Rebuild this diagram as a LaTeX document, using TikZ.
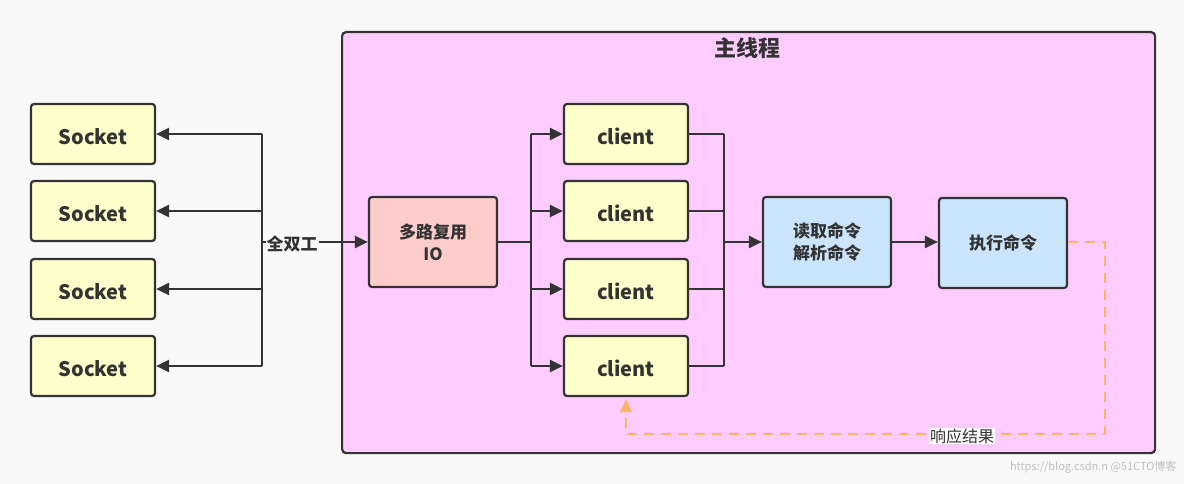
\documentclass[tikz,border=0pt]{standalone}
\usepackage{fontspec}
\setmainfont{Noto Sans CJK SC}
\usetikzlibrary{arrows.meta}
\definecolor{bg}{HTML}{F9F9F9}
\definecolor{ink}{HTML}{333333}
\definecolor{frame}{HTML}{FFCCFF}
\definecolor{yel}{HTML}{FFFFCC}
\definecolor{rose}{HTML}{FFCCCC}
\definecolor{blu}{HTML}{CCE5FF}
\definecolor{orng}{HTML}{FFB366}
\tikzset{
  box/.style={draw=ink, line width=2.2pt, rounded corners=3pt, font=\bfseries\fontsize{17}{22}\selectfont, text=ink, align=center},
  small/.style={box, fill=yel, minimum width=124pt, minimum height=60pt, font=\bfseries\fontsize{20}{22}\selectfont, text height=21pt, text depth=0pt},
  big/.style={box, minimum width=128pt, minimum height=90pt},
  conn/.style={draw=ink, line width=2.2pt},
  arr/.style={conn, -{Triangle[length=13pt,width=12pt]}},
  resp/.style={draw=orng, line width=2.4pt, dash pattern=on 10pt off 7pt}
}
\begin{document}
\begin{tikzpicture}[x=1pt,y=-1pt]
\fill[bg] (0,0) rectangle (1184,484);
\useasboundingbox (0,0) rectangle (1184,484);
\node[draw=ink, line width=2.2pt, fill=frame, rounded corners=4pt, minimum width=813pt, minimum height=421pt, anchor=north west] (main) at (341,31) {};
\node[font=\bfseries\fontsize{22}{24}\selectfont, text=ink] (title) at (747,48) {主线程};
% sockets and clients
\foreach \i/\y in {1/134,2/211,3/289,4/366}{
  \node[small] (s\i) at (93,\y) {Socket};
  \node[small] (c\i) at (626,\y) {client};
}
\node[big, fill=rose] (io) at (433,242) {多路复用\\IO};
\node[big, fill=blu] (rd) at (827,242) {读取命令\\解析命令};
\node[big, fill=blu] (ex) at (1003,243) {执行命令};
% left bus
\coordinate (lb1) at (262,134);
\coordinate (lb4) at (262,366);
\coordinate (lbm) at (262,242);
\draw[conn] (lb1) -- (lb4);
\foreach \i/\y in {1/134,2/211,3/289,4/366}{
  \coordinate (lbk\i) at (262,\y);
  \draw[arr] (lbk\i) -- (s\i.east);
}
\draw[arr] (lbm) -- (io.west);
\node[fill=bg, inner sep=1pt, font=\bfseries\fontsize{17}{20}\selectfont, text=ink] (fd) at (292,244) {全双工};
% middle bus
\coordinate (mbm) at (531,242);
\coordinate (mb1) at (531,134);
\coordinate (mb4) at (531,366);
\draw[conn] (io.east) -- (mbm);
\draw[conn] (mb1) -- (mb4);
\foreach \i/\y in {1/134,2/211,3/289,4/366}{
  \coordinate (mbk\i) at (531,\y);
  \draw[arr] (mbk\i) -- (c\i.west);
  \coordinate (rbk\i) at (724,\y);
  \draw[conn] (c\i.east) -- (rbk\i);
}
\coordinate (rbm) at (724,242);
\draw[conn] (rbk1) -- (rbk4);
\draw[arr] (rbm) -- (rd.west);
\draw[arr] (rd.east) -- ([yshift=1pt]ex.west);
% response
\coordinate (r1) at (1105,242);
\coordinate (r2) at (1105,434);
\coordinate (r3) at (626,434);
\draw[resp] ([yshift=1pt]ex.east) -- (r1) -- (r2) -- (r3) -- ([yshift=-14pt]c4.south);
\fill[orng] ([yshift=-2pt]c4.south) -- ++(-6pt,-13pt) -- ++(12pt,0) -- cycle;
\node[fill=white, inner sep=1pt, font=\fontsize{16}{18}\selectfont, text=ink] (rl) at (962,436) {响应结果};
\node[text=black!25, font=\fontsize{11}{12}\selectfont, anchor=east] (wm) at (1180,467) {https://blog.csdn.n @51CTO博客};
\end{tikzpicture}
\end{document}
